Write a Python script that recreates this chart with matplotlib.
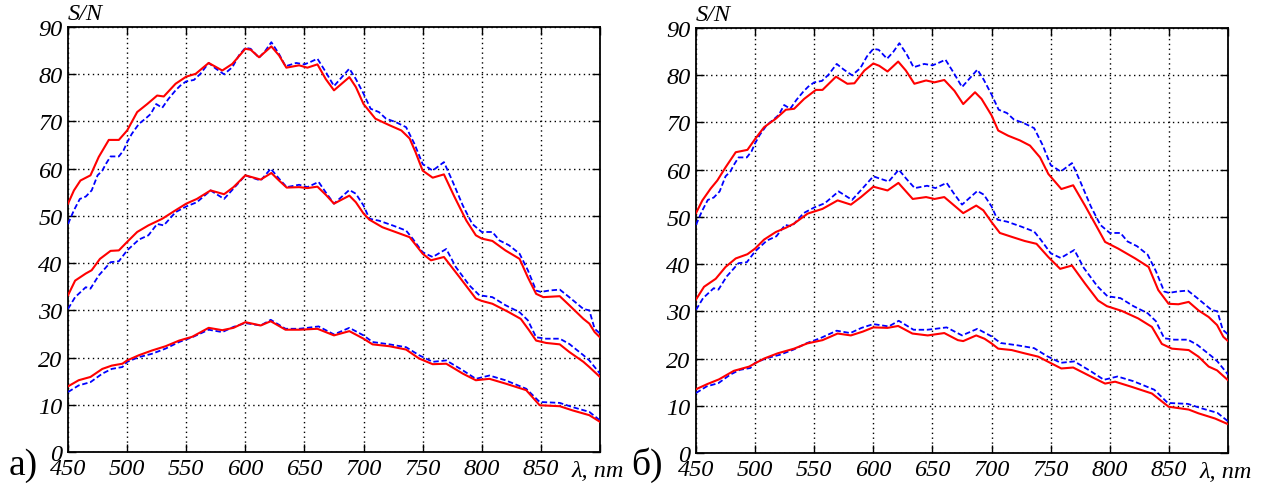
import numpy as np
import matplotlib
matplotlib.use("Agg")
import matplotlib.pyplot as plt
from matplotlib import font_manager

# reference spectra (blue dashed), same in both panels
blue_top_nm = [450, 455, 460, 465, 470, 475, 479, 482, 486, 493, 497, 500, 504, 510, 515.5, 520, 524.6, 529.7,
               535, 541, 545, 550, 556.5, 562, 569, 575, 582, 589, 594.6, 600, 604.5, 611.6, 617, 622, 628.5,
               634, 643, 650, 655, 661, 668, 675, 688, 693.5, 700, 706, 713, 719, 727, 736, 743, 750, 758.5,
               768, 775, 784, 792, 800, 809, 815, 823, 832, 839, 846, 850, 857, 866, 874, 886, 891, 895.5, 900]
blue_top = [48.3, 51.2, 53.6, 54.1, 55.4, 58.6, 59.6, 61.0, 62.6, 62.6, 63.9, 65.6, 67.4, 69.5, 70.6, 71.6, 73.7, 72.9,
            74.8, 76.6, 77.6, 78.5, 78.8, 80.1, 82.4, 81.2, 80.0, 81.5, 84.0, 85.6, 85.4, 83.5, 85.0, 86.8, 84.3,
            81.7, 82.4, 82.1, 82.6, 83.3, 80.5, 77.5, 81.2, 79.0, 75.9, 72.7, 72.0, 70.6, 69.9, 68.8, 65.3, 61.0, 59.6,
            61.4, 57.5, 52.2, 48.3, 46.6, 46.6, 44.8, 43.8, 42.0, 38.5, 34.2, 33.9, 34.2, 34.4, 32.8, 30.3, 30.0, 26.1, 25.1]

blue_mid_nm = [450, 456, 465, 469, 476, 486, 493, 500, 510, 518, 525.4, 531, 541, 550, 559, 570.6, 582, 590, 600,
               604.5, 613, 621.5, 628.5, 635, 645.5, 652.5, 662, 668, 675, 688, 693.5, 700, 705, 713, 724.5, 736,
               741.5, 750, 758.5, 770, 778, 789.5, 798, 809, 820, 832, 839, 846, 854.5, 866, 874, 886, 891, 900]
blue_mid = [30.3, 32.8, 34.9, 34.6, 37.4, 40.2, 40.4, 42.7, 45.0, 45.9, 48.3, 48.0, 50.8, 52.0, 52.9, 55.4, 53.6, 55.8, 58.6,
            58.2, 57.5, 60.0, 57.9, 56.1, 56.6, 56.1, 57.2, 55.0, 52.6, 55.5, 54.7, 52.2, 49.4, 49.0, 48.0, 46.9,
            45.2, 42.3, 41.3, 43.0, 39.2, 35.3, 33.2, 32.8, 31.1, 29.6, 27.9, 24.3, 24.0, 24.0, 22.9, 20.5, 19.4, 16.6]

blue_low_nm = [450, 459, 469, 479, 487, 496, 500, 510, 521, 532.5, 544, 555, 569, 580.5, 590, 600, 613, 621.5, 634,
               645.5, 652.5, 662, 675, 688, 700, 707.6, 722, 736, 747, 758.5, 770, 784, 795, 806.5, 820, 837.6,
               849, 866, 877, 891, 900]
blue_low = [12.7, 14.1, 14.8, 16.6, 17.6, 18.0, 19.1, 20.1, 20.8, 21.9, 23.3, 24.3, 25.9, 25.4, 26.5, 27.3, 26.8, 28.0, 26.1,
            26.1, 26.3, 26.6, 24.9, 26.3, 24.7, 23.3, 22.8, 22.2, 20.5, 19.1, 19.4, 17.3, 15.5, 16.2, 15.2, 13.4,
            10.6, 10.4, 9.5, 8.5, 6.7]

# panel a) red curves
a_top_nm = [450, 455, 460.5, 469, 476, 484.5, 493, 500, 508.5, 517, 525.4, 531, 541, 550, 558, 569, 580.5, 589, 600,
            604.5, 611.6, 622, 628.5, 634.7, 645.5, 652.5, 661, 668, 675, 688, 693.5, 700, 710, 722, 732, 739,
            744, 750, 758.5, 768, 777, 787, 795, 800, 809, 820, 832, 839, 846, 852, 866, 874, 886, 891, 895.5, 900]
a_top = [52.6, 55.4, 57.5, 58.6, 62.5, 66.1, 66.1, 68.1, 72.0, 73.7, 75.5, 75.3, 78.0, 79.5, 80.1, 82.4, 80.8, 82.2, 85.4,
         85.2, 83.6, 85.9, 84.0, 81.4, 81.9, 81.4, 82.1, 79.0, 76.6, 79.4, 77.3, 73.7, 70.6, 69.2, 68.1, 66.4,
         63.5, 59.6, 58.1, 58.8, 54.0, 49.0, 45.9, 45.2, 44.7, 42.7, 40.9, 37.0, 33.5, 32.8, 33.0, 31.1, 28.2, 27.2, 25.4, 24.3]

a_mid_nm = [450, 456, 465, 470, 477, 486, 493, 500, 508.5, 518, 529.7, 541, 550, 559, 570.6, 582, 590, 600, 613, 622,
            628.5, 635, 645.5, 652.5, 661, 668, 675, 688, 693.5, 700, 705, 716, 727, 739, 750, 757, 768, 781, 795,
            800, 809, 823, 833, 840, 846, 854.5, 866, 874, 886, 891, 900]
a_mid = [33.2, 36.3, 37.8, 38.5, 40.9, 42.6, 42.7, 44.5, 46.6, 48.0, 49.4, 51.2, 52.6, 53.6, 55.4, 54.6, 56.1, 58.6, 57.7, 59.1,
         57.5, 56.0, 56.1, 55.9, 56.2, 54.5, 52.6, 54.3, 52.9, 50.5, 49.2, 47.6, 46.6, 45.5, 42.0, 40.6, 41.3, 37.1, 32.5,
         32.0, 31.4, 29.6, 28.2, 25.8, 23.6, 23.1, 22.8, 21.2, 19.1, 18.0, 15.9]

a_low_nm = [450, 459, 469, 479, 487, 496, 500, 510, 521, 532.5, 544, 555, 569, 580.5, 590, 600, 613, 621.5, 634,
            645.5, 661, 675, 688, 700, 707.6, 722, 736, 747, 758.5, 770, 784, 795, 806.5, 820, 837.6, 849, 866,
            877, 891, 900]
a_low = [13.9, 15.2, 15.9, 17.6, 18.3, 18.7, 19.4, 20.5, 21.5, 22.4, 23.6, 24.4, 26.3, 25.8, 26.3, 27.5, 26.8, 27.7, 25.9,
         25.9, 26.1, 24.7, 25.6, 24.0, 22.8, 22.4, 21.7, 19.8, 18.6, 18.7, 16.6, 15.2, 15.5, 14.5, 13.1, 9.9, 9.7,
         8.8, 7.8, 6.4]

# panel б) red curves
b_top_nm = [450, 455.4, 462.4, 468, 475, 483.6, 493.5, 500, 507.6, 517.5, 526, 533, 541.5, 551.4, 557, 568.4, 578,
            584, 592.4, 600, 605, 612, 621, 627.5, 634.7, 644.6, 651.7, 660, 668.6, 676, 686, 691.5, 700, 705.6,
            714, 724, 732.5, 741, 748, 759, 769, 779, 789, 796, 807, 821.5, 832.8, 841, 849.7, 858, 866.7, 875,
            883.6, 890.7, 896, 900]
b_top = [50.8, 53.5, 56.0, 57.7, 60.5, 63.7, 64.2, 66.5, 69.0, 70.8, 72.7, 72.9, 75.0, 76.9, 76.9, 79.7, 78.2,
         78.3, 81.0, 82.5, 82.0, 80.8, 82.9, 81.0, 78.2, 78.9, 78.5, 79.0, 76.7, 73.9, 76.4, 75.0, 71.5, 68.3,
         67.2, 66.2, 65.1, 62.6, 59.1, 55.9, 56.7, 52.4, 47.9, 44.7, 43.3, 41.2, 39.4, 34.5, 31.6, 31.5, 32.0, 30.2,
         28.8, 27.1, 24.6, 23.7]

b_mid_nm = [450, 456.8, 466.7, 475, 483.6, 493.5, 500, 507.6, 517.5, 526, 533, 544.4, 557, 569.8, 581, 589.5, 600,
            612, 621.2, 633.3, 644.6, 651.7, 660, 668, 676, 687, 693, 700, 707, 718, 728, 738, 748, 758, 768, 779,
            790, 797.5, 810, 824, 835.6, 844, 852.5, 866.7, 875, 883.6, 890.7, 900]
b_mid = [32.5, 35.2, 36.9, 39.4, 41.2, 42.1, 43.3, 45.2, 46.8, 47.7, 48.6, 50.7, 51.7, 53.5, 52.6, 54.2, 56.4,
         55.6, 57.2, 53.8, 54.2, 53.8, 54.2, 52.5, 50.8, 52.4, 51.4, 48.9, 46.6, 45.7, 44.9, 44.3, 41.5, 39.0, 39.7, 35.9,
         32.3, 31.1, 30.1, 28.5, 26.7, 23.1, 22.1, 21.8, 20.4, 18.3, 17.5, 15.4]

b_low_nm = [450, 459.6, 469.5, 482, 495, 500, 507.6, 519, 533, 544, 557, 569.8, 581, 591, 600, 612, 621, 633, 646,
            660, 671.5, 676, 687, 694, 700, 705.6, 717, 728, 739.5, 748, 759, 769, 784.7, 796, 804.5, 818.6, 835.6,
            849.7, 866.7, 875, 889, 900]
b_low = [13.5, 14.6, 15.6, 17.4, 18.3, 19.0, 20.0, 21.1, 22.1, 23.2, 23.9, 25.3, 24.9, 25.7, 26.6, 26.5, 26.9, 25.3, 24.9,
         25.4, 23.9, 23.7, 24.9, 24.2, 23.2, 22.1, 21.8, 21.1, 20.4, 19.3, 17.9, 18.1, 16.1, 14.7, 15.1, 14.0, 12.6,
         9.8, 9.2, 8.4, 7.3, 6.1]

x_ticks = [450, 500, 550, 600, 650, 700, 750, 800, 850, 900]
x_labels = ["450", "500", "550", "600", "650", "700", "750", "800", "850", ""]
y_ticks = list(range(0, 91, 10))

# Times-like italic for all labels
it = font_manager.FontProperties(family="Liberation Serif", style="italic", size=17.5)
up = font_manager.FontProperties(family="Liberation Serif", style="normal", size=27)

fig = plt.figure(figsize=(12.62, 4.89), dpi=100)
ax_a = fig.add_axes([0.0539, 0.0736, 0.4215, 0.869])
ax_b = fig.add_axes([0.5515, 0.0716, 0.4216, 0.869])

panels = [
    (ax_a, [a_top_nm, a_mid_nm, a_low_nm], [a_top, a_mid, a_low], "а)", 0.007),
    (ax_b, [b_top_nm, b_mid_nm, b_low_nm], [b_top, b_mid, b_low], "б)", 0.500),
]
blues = [(blue_top_nm, blue_top), (blue_mid_nm, blue_mid), (blue_low_nm, blue_low)]

for ax, red_nm, red_vals, tag, tag_x in panels:
    for (bx, by), rx, ry in zip(blues, red_nm, red_vals):
        ax.plot(bx, by, color="#0000ff", lw=1.3, ls=(0, (3, 1.5)), zorder=3,
                solid_joinstyle="round", dash_joinstyle="round")
        ax.plot(rx, ry, color="#ff0000", lw=1.5, zorder=4, solid_joinstyle="round")
    ax.set_xlim(450, 900)
    ax.set_ylim(0, 90)
    ax.set_xticks(x_ticks)
    ax.set_xticklabels(x_labels)
    ax.set_yticks(y_ticks)
    ax.grid(True, color="black", ls=(0, (1, 2.5)), lw=1.0)
    ax.tick_params(direction="in", length=6, width=1.0, top=True, right=True, pad=4)
    for lab in ax.get_xticklabels() + ax.get_yticklabels():
        lab.set_fontproperties(it)
    for sp in ax.spines.values():
        sp.set_linewidth(1.3)
    ax.text(0.0, 1.008, "S/N", transform=ax.transAxes, ha="left", va="bottom",
            fontproperties=it)
    ax.text(876, -1.6, "λ, nm", ha="left", va="top", fontproperties=it)
    fig.text(tag_x, 0.012, tag, fontproperties=up, ha="left", va="bottom")

fig.savefig("out.png", dpi=100)
